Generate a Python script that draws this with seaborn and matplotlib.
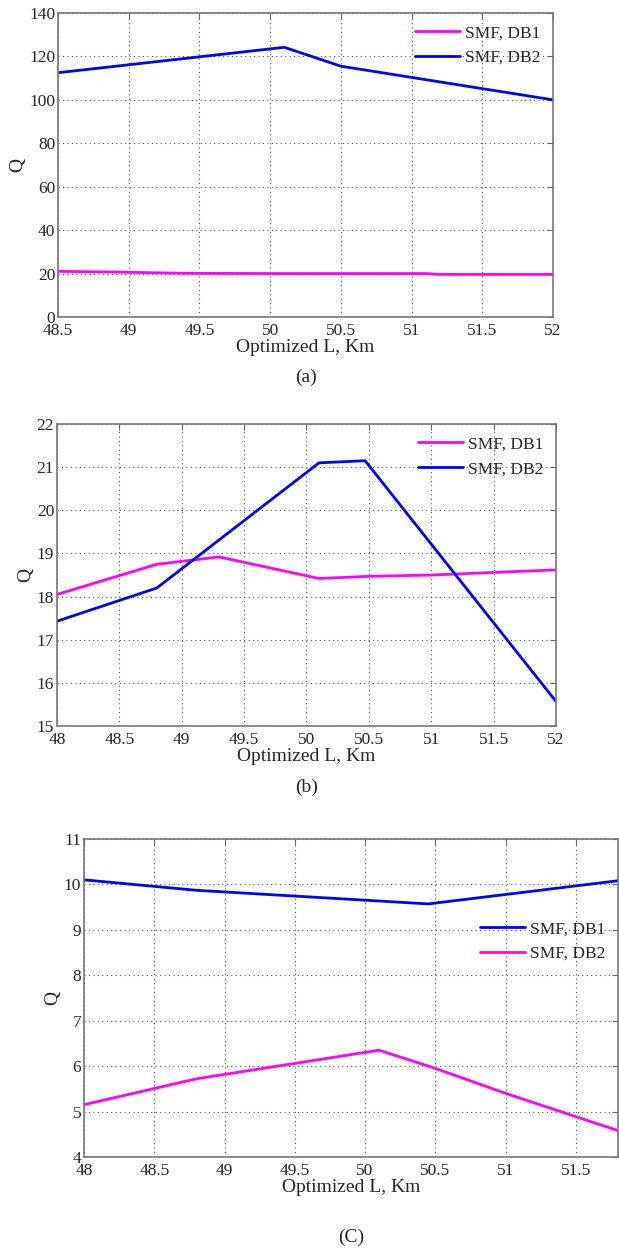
import matplotlib
matplotlib.use("Agg")
import matplotlib.pyplot as plt
import pandas as pd
import seaborn as sns

# panel (a)
a_db1_x = [48.5, 48.9, 49.4, 50.1, 51.1, 51.2, 52.0]
a_db1_q = [21.0, 20.7, 20.1, 20.0, 20.0, 19.6, 19.6]
a_db2_x = [48.5, 50.1, 50.5, 52.0]
a_db2_q = [112.5, 124.2, 115.5, 100.0]

# panel (b)
b_db1_x = [48.0, 48.8, 49.3, 50.1, 50.5, 51.0, 52.0]
b_db1_q = [18.05, 18.75, 18.92, 18.42, 18.47, 18.5, 18.62]
b_db2_x = [48.0, 48.8, 50.1, 50.47, 52.0]
b_db2_q = [17.43, 18.2, 21.1, 21.15, 15.57]

# panel (c)
c_db1_x = [48.0, 48.8, 50.45, 51.8]
c_db1_q = [10.1, 9.87, 9.57, 10.08]
c_db2_x = [48.0, 48.8, 50.1, 50.5, 51.0, 51.8]
c_db2_q = [5.15, 5.72, 6.35, 5.95, 5.4, 4.58]

MAGENTA = '#ff00ff'
BLUE = '#0000ff'

sns.set_style('white')
plt.rcParams['font.family'] = ['Liberation Serif', 'DejaVu Serif']
plt.rcParams['font.size'] = 12.5


def make_df(x, q, name):
    return pd.DataFrame({'L': x, 'Q': q, 'series': name})


def draw_panel(ax, series, xlim, ylim, xticks, yticks, legend_loc, caption, cap_y):
    df = pd.concat([make_df(x, q, n) for x, q, n, _ in series], ignore_index=True)
    palette = {n: c for _, _, n, c in series}
    sns.lineplot(data=df, x='L', y='Q', hue='series', palette=palette,
                 linewidth=2.0, ax=ax, sort=False, estimator=None)
    ax.set_xlim(*xlim)
    ax.set_ylim(*ylim)
    ax.set_xticks(xticks)
    ax.set_xticklabels([('%g' % t) for t in xticks])
    ax.set_yticks(yticks)
    ax.grid(True, linestyle=(0, (1, 3)), color='#555555', linewidth=0.8)
    ax.tick_params(direction='in', length=4, top=True, right=True, color='#666666',
                   labelsize=12.5, pad=2)
    ax.tick_params(axis='x', pad=4)
    for sp in ax.spines.values():
        sp.set_color('#777777')
        sp.set_linewidth(1.2)
    ax.set_xlabel('Optimized L, Km', fontsize=14, labelpad=0)
    ax.set_ylabel('Q', fontsize=14, labelpad=2)
    ax.legend(title=None, frameon=False, fontsize=12.5, handlelength=2.6,
              handletextpad=0.3, labelspacing=0.5, borderaxespad=0.3, **legend_loc)
    ax.figure.text(ax.get_position().x0 + ax.get_position().width / 2, cap_y, caption,
                   ha='center', va='center', fontsize=14)


fig = plt.figure(figsize=(6.19, 12.49), dpi=100)

ax_a = fig.add_axes([0.0937, 0.7462, 0.7997, 0.2434])
draw_panel(ax_a,
           [(a_db1_x, a_db1_q, 'SMF, DB1', MAGENTA), (a_db2_x, a_db2_q, 'SMF, DB2', BLUE)],
           (48.5, 52), (0, 140), [48.5, 49, 49.5, 50, 50.5, 51, 51.5, 52],
           list(range(0, 141, 20)), dict(loc='upper right'), '(a)', 1 - 377 / 1249)

ax_b = fig.add_axes([0.0921, 0.4187, 0.8061, 0.2418])
draw_panel(ax_b,
           [(b_db1_x, b_db1_q, 'SMF, DB1', MAGENTA), (b_db2_x, b_db2_q, 'SMF, DB2', BLUE)],
           (48, 52), (15, 22), [48, 48.5, 49, 49.5, 50, 50.5, 51, 51.5, 52],
           list(range(15, 23)), dict(loc='upper right'), '(b)', 1 - 787 / 1249)

ax_c = fig.add_axes([0.1357, 0.0737, 0.8627, 0.2546])
draw_panel(ax_c,
           [(c_db1_x, c_db1_q, 'SMF, DB1', BLUE), (c_db2_x, c_db2_q, 'SMF, DB2', MAGENTA)],
           (48, 51.8), (4, 11), [48, 48.5, 49, 49.5, 50, 50.5, 51, 51.5],
           list(range(4, 12)), dict(loc='upper right', bbox_to_anchor=(1.0, 0.78)),
           '(C)', 1 - 1237 / 1249)

fig.savefig('out.png', dpi=100)
